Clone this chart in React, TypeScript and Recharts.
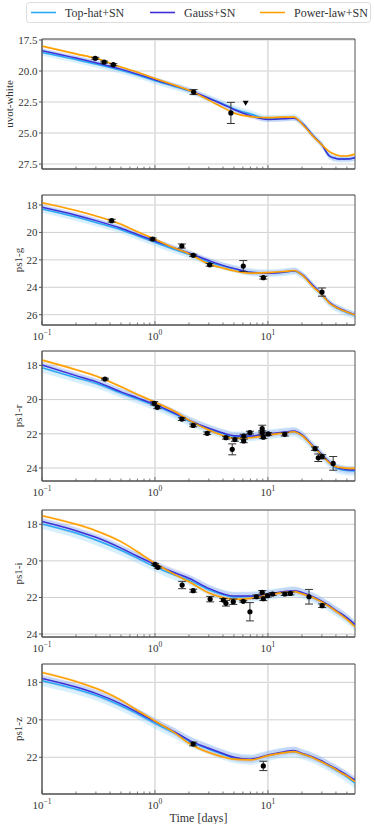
import React from 'react';
import {
  ComposedChart, Line, Area, Scatter, XAxis, YAxis, CartesianGrid,
  ReferenceArea, ErrorBar,
} from 'recharts';

const FONT = "'Liberation Serif', 'Times New Roman', serif";

// model time grid [days]
const TIMES = [0.1, 0.2, 0.3, 0.5, 0.7, 1, 1.5, 2, 3, 4, 5, 7, 10, 14, 17, 20, 25, 30, 35, 40, 45, 50, 59];
const X_TICKS = [0.1, 0.2, 0.3, 0.4, 0.5, 0.6, 0.7, 0.8, 0.9, 1, 2, 3, 4, 5, 6, 7, 8, 9, 10, 20, 30, 40, 50];
const X_MAJOR_LABELS: Record<string, string> = { '0.1': '\u22121', '1': '0', '10': '1' };

const TOPHAT_SPREAD = 0.28;
const GAUSS_SPREAD = 0.2;
const POWER_SPREAD = 0.08;

// uvot-white
const UVOT_TOPHAT = [18.5, 19.08, 19.44, 19.95, 20.33, 20.78, 21.25, 21.6, 22.2, 22.65, 23.05, 23.45, 23.83, 23.8, 23.75, 24.2, 25.2, 25.95, 26.85, 27.05, 27.1, 27.1, 27.0];
const UVOT_GAUSS = [18.36, 18.95, 19.33, 19.85, 20.25, 20.7, 21.2, 21.55, 22.2, 22.7, 23.1, 23.6, 23.9, 23.85, 23.8, 24.2, 25.2, 25.95, 26.85, 27.05, 27.1, 27.1, 27.0];
const UVOT_POWER = [17.99, 18.62, 18.98, 19.68, 20.1, 20.6, 21.15, 21.55, 22.35, 22.95, 23.38, 23.68, 23.76, 23.72, 23.72, 24.25, 25.25, 25.95, 26.5, 26.75, 26.85, 26.85, 26.7];
const UVOT_OBS = [
  { x: 0.296, y: 18.98, err: 0.08 },
  { x: 0.355, y: 19.28, err: 0.08 },
  { x: 0.428, y: 19.49, err: 0.08 },
  { x: 2.2, y: 21.7, err: 0.2 },
  { x: 4.7, y: 23.38, err: 0.85 },
];
const UVOT_LIMITS = [{ x: 6.35, y: 22.6 }];

// ps1-g
const G_TOPHAT = [18.29, 18.88, 19.27, 19.8, 20.25, 20.72, 21.25, 21.6, 22.15, 22.45, 22.65, 22.9, 22.97, 22.9, 22.82, 23.1, 23.9, 24.55, 25.15, 25.48, 25.68, 25.85, 26.05];
const G_GAUSS = [18.17, 18.75, 19.14, 19.7, 20.15, 20.62, 21.15, 21.5, 22.05, 22.4, 22.62, 22.9, 22.97, 22.88, 22.8, 23.05, 23.85, 24.5, 25.1, 25.42, 25.62, 25.78, 26.0];
const G_POWER = [17.83, 18.4, 18.8, 19.4, 19.95, 20.5, 21.15, 21.55, 22.3, 22.6, 22.8, 22.97, 22.93, 22.85, 22.78, 23.1, 23.95, 24.55, 25.15, 25.45, 25.65, 25.8, 26.02];
const G_OBS = [
  { x: 0.414, y: 19.14, err: 0.1 },
  { x: 0.955, y: 20.48, err: 0.08 },
  { x: 1.73, y: 20.99, err: 0.15 },
  { x: 2.18, y: 21.67, err: 0.08 },
  { x: 3.05, y: 22.36, err: 0.1 },
  { x: 6.05, y: 22.45, err: 0.4 },
  { x: 9.1, y: 23.3, err: 0.1 },
  { x: 30.1, y: 24.35, err: 0.3 },
];

// ps1-r
const R_TOPHAT = [18.14, 18.72, 19.05, 19.62, 19.97, 20.35, 20.85, 21.25, 21.72, 22.0, 22.15, 22.15, 22.03, 21.93, 21.88, 22.1, 22.75, 23.25, 23.7, 24.0, 24.1, 24.15, 24.18];
const R_GAUSS = [17.98, 18.6, 18.95, 19.55, 19.9, 20.28, 20.8, 21.2, 21.68, 21.95, 22.11, 22.13, 22.01, 21.9, 21.84, 22.05, 22.7, 23.2, 23.65, 23.95, 24.05, 24.1, 24.12];
const R_POWER = [17.69, 18.25, 18.62, 19.25, 19.7, 20.15, 20.7, 21.2, 21.78, 22.1, 22.27, 22.23, 22.07, 21.95, 21.88, 22.1, 22.75, 23.24, 23.7, 23.92, 23.98, 24.02, 24.02];
const R_OBS = [
  { x: 0.361, y: 18.8, err: 0.05 },
  { x: 0.986, y: 20.22, err: 0.1 },
  { x: 1.05, y: 20.45, err: 0.08 },
  { x: 1.73, y: 21.14, err: 0.08 },
  { x: 2.18, y: 21.51, err: 0.08 },
  { x: 2.9, y: 21.97, err: 0.08 },
  { x: 4.25, y: 22.23, err: 0.08 },
  { x: 4.83, y: 22.91, err: 0.32 },
  { x: 5.1, y: 22.34, err: 0.1 },
  { x: 6.1, y: 22.13, err: 0.1 },
  { x: 6.1, y: 22.42, err: 0.1 },
  { x: 6.93, y: 21.93, err: 0.08 },
  { x: 8.9, y: 21.7, err: 0.2 },
  { x: 8.9, y: 21.92, err: 0.1 },
  { x: 9.1, y: 22.2, err: 0.08 },
  { x: 10.07, y: 22.01, err: 0.08 },
  { x: 14.1, y: 22.03, err: 0.1 },
  { x: 26.1, y: 22.87, err: 0.1 },
  { x: 27.9, y: 23.4, err: 0.22 },
  { x: 30.2, y: 23.34, err: 0.12 },
  { x: 37.8, y: 23.73, err: 0.4 },
];

// ps1-i
const I_TOPHAT = [17.98, 18.48, 18.86, 19.42, 19.85, 20.32, 20.78, 21.05, 21.58, 21.85, 21.97, 21.95, 21.85, 21.72, 21.67, 21.77, 22.0, 22.25, 22.5, 22.75, 22.95, 23.15, 23.55];
const I_GAUSS = [17.85, 18.35, 18.71, 19.3, 19.75, 20.19, 20.65, 20.95, 21.5, 21.8, 21.92, 21.92, 21.82, 21.68, 21.63, 21.72, 21.95, 22.2, 22.45, 22.7, 22.9, 23.1, 23.47];
const I_POWER = [17.53, 18.0, 18.35, 18.95, 19.5, 20.13, 20.75, 21.14, 21.75, 22.0, 22.1, 22.05, 21.87, 21.72, 21.68, 21.8, 22.0, 22.25, 22.5, 22.75, 22.98, 23.2, 23.6];
const I_OBS = [
  { x: 1.0, y: 20.19, err: 0.05 },
  { x: 1.06, y: 20.35, err: 0.05 },
  { x: 1.74, y: 21.32, err: 0.2 },
  { x: 2.18, y: 21.63, err: 0.08 },
  { x: 3.08, y: 22.09, err: 0.15 },
  { x: 4.03, y: 22.14, err: 0.08 },
  { x: 4.25, y: 22.32, err: 0.15 },
  { x: 4.93, y: 22.23, err: 0.15 },
  { x: 6.05, y: 22.21, err: 0.05 },
  { x: 6.93, y: 22.78, err: 0.5 },
  { x: 7.89, y: 21.96, err: 0.1 },
  { x: 8.9, y: 21.72, err: 0.1 },
  { x: 9.1, y: 22.07, err: 0.1 },
  { x: 9.93, y: 21.9, err: 0.08 },
  { x: 11.0, y: 21.81, err: 0.08 },
  { x: 14.1, y: 21.81, err: 0.08 },
  { x: 15.8, y: 21.78, err: 0.08 },
  { x: 23.1, y: 21.96, err: 0.4 },
  { x: 30.2, y: 22.45, err: 0.1 },
];

// ps1-z
const Z_TOPHAT = [17.91, 18.36, 18.69, 19.25, 19.68, 20.19, 20.72, 21.13, 21.57, 21.85, 22.03, 22.12, 21.92, 21.75, 21.7, 21.83, 22.03, 22.26, 22.48, 22.68, 22.86, 23.05, 23.39];
const Z_GAUSS = [17.79, 18.25, 18.59, 19.15, 19.6, 20.1, 20.65, 21.08, 21.52, 21.8, 22.0, 22.1, 21.88, 21.7, 21.64, 21.78, 21.98, 22.2, 22.42, 22.6, 22.78, 22.95, 23.2];
const Z_POWER = [17.47, 17.95, 18.32, 18.95, 19.5, 20.06, 20.7, 21.25, 21.75, 21.98, 22.1, 22.14, 21.91, 21.75, 21.7, 21.82, 22.02, 22.25, 22.46, 22.65, 22.85, 23.0, 23.3];
const Z_OBS = [
  { x: 2.18, y: 21.29, err: 0.1 },
  { x: 9.1, y: 22.46, err: 0.25 },
];

const COLORS = { tophat: '#29aaf2', gauss: '#3c2fd6', power: '#ffa000' };

type Panel = {
  label: string;
  top: number;
  height: number;
  domain: [number, number];
  ticks: number[];
  decimals: number;
  tophat: number[];
  gauss: number[];
  power: number[];
  obs: { x: number; y: number; err: number }[];
  limits?: { x: number; y: number }[];
  showX: boolean;
  labelOffset: number;
  xLabel?: string;
};

const PANELS: Panel[] = [
  { label: 'uvot-white', top: 39, height: 130, domain: [17.42, 27.9], ticks: [17.5, 20, 22.5, 25, 27.5], decimals: 1,
    tophat: UVOT_TOPHAT, gauss: UVOT_GAUSS, power: UVOT_POWER, obs: UVOT_OBS, limits: UVOT_LIMITS, showX: false, labelOffset: 7 },
  { label: 'ps1-g', top: 195, height: 130, domain: [17.27, 26.75], ticks: [18, 20, 22, 24, 26], decimals: 0,
    tophat: G_TOPHAT, gauss: G_GAUSS, power: G_POWER, obs: G_OBS, showX: true, labelOffset: 16 },
  { label: 'ps1-r', top: 351, height: 130, domain: [17.16, 24.76], ticks: [18, 20, 22, 24], decimals: 0,
    tophat: R_TOPHAT, gauss: R_GAUSS, power: R_POWER, obs: R_OBS, showX: true, labelOffset: 16 },
  { label: 'ps1-i', top: 510, height: 127, domain: [17.22, 24.16], ticks: [18, 20, 22, 24], decimals: 0,
    tophat: I_TOPHAT, gauss: I_GAUSS, power: I_POWER, obs: I_OBS, showX: true, labelOffset: 16 },
  { label: 'ps1-z', top: 664, height: 130, domain: [17.02, 23.96], ticks: [18, 20, 22], decimals: 0,
    tophat: Z_TOPHAT, gauss: Z_GAUSS, power: Z_POWER, obs: Z_OBS, showX: true, labelOffset: 16, xLabel: 'Time [days]' },
];

const isMajor = (v: number) => Math.abs(Math.log10(v) - Math.round(Math.log10(v))) < 1e-6;

const makeXTick = (show: boolean) => (props: any) => {
  const { x, y, payload } = props;
  const v = payload.value as number;
  const major = isMajor(v);
  const exp = X_MAJOR_LABELS[String(v)];
  return (
    <g>
      <line x1={x} x2={x} y1={y} y2={y - (major ? 4 : 2.5)} stroke="#555" strokeWidth={0.8} />
      {show && major && (
        <text x={x} y={y + 15} textAnchor="middle" fontSize={11} fontFamily={FONT} fill="#333">
          10<tspan dy={-5} fontSize={7.5}>{exp}</tspan>
        </text>
      )}
    </g>
  );
};

const Dot = (p: any) => <circle cx={p.cx} cy={p.cy} r={2.6} fill="#000" />;
const DownTriangle = (p: any) => (
  <path d={`M${p.cx - 3},${p.cy - 2.5} L${p.cx + 3},${p.cy - 2.5} L${p.cx},${p.cy + 2.5} Z`} fill="#000" />
);

const PanelChart = ({ panel }: { panel: Panel }) => {
  const rows = TIMES.map((t, i) => ({
    x: t,
    tophat: panel.tophat[i],
    gauss: panel.gauss[i],
    power: panel.power[i],
  }));
  const xAxisHeight = panel.xLabel ? 30 : 25;
  const chartHeight = panel.height + 5 + xAxisHeight;
  return (
    <div style={{ position: 'absolute', left: 0, top: panel.top - 5 }}>
      <ComposedChart width={374} height={chartHeight} data={rows} margin={{ top: 5, right: 19, left: 2, bottom: 0 }}>
        <CartesianGrid vertical={false} stroke="#d0d0d0" strokeWidth={1} />
        <CartesianGrid horizontal={false} verticalValues={[1, 10]} stroke="#dcdcdc" strokeWidth={1.6} />
        <XAxis
          dataKey="x"
          type="number"
          scale="log"
          domain={[0.1, 59]}
          allowDataOverflow
          ticks={X_TICKS}
          interval={0}
          tickSize={0}
          tickMargin={0}
          tickLine={false}
          height={xAxisHeight}
          stroke="#555"
          tick={makeXTick(panel.showX)}
          label={panel.xLabel ? { value: panel.xLabel, position: 'insideBottom', offset: 2, style: { fontSize: 12, fontFamily: FONT, fill: '#333' } } : undefined}
        />
        <YAxis
          type="number"
          reversed
          domain={panel.domain}
          allowDataOverflow
          ticks={panel.ticks}
          interval={0}
          width={40}
          tickSize={3}
          tickMargin={1.5}
          stroke="#555"
          tick={{ fontSize: 11, fontFamily: FONT, fill: '#333' }}
          tickFormatter={(v: number) => v.toFixed(panel.decimals)}
          label={{ value: panel.label, angle: -90, position: 'insideLeft', offset: panel.labelOffset, style: { textAnchor: 'middle', fontSize: 11, fontFamily: FONT, fill: '#333' } }}
        />
        <Area type="monotone" dataKey={(d: any) => [d.tophat - TOPHAT_SPREAD, d.tophat + TOPHAT_SPREAD]} stroke="none" fill="#8fd0f7" fillOpacity={0.35} isAnimationActive={false} />
        <Area type="monotone" dataKey={(d: any) => [d.gauss - GAUSS_SPREAD, d.gauss + GAUSS_SPREAD]} stroke="none" fill="#8f97e8" fillOpacity={0.28} isAnimationActive={false} />
        <Area type="monotone" dataKey={(d: any) => [d.power - POWER_SPREAD, d.power + POWER_SPREAD]} stroke="none" fill="#ffb347" fillOpacity={0.25} isAnimationActive={false} />
        <Line type="monotone" dataKey="tophat" stroke={COLORS.tophat} strokeWidth={1.5} dot={false} isAnimationActive={false} />
        <Line type="monotone" dataKey="gauss" stroke={COLORS.gauss} strokeWidth={1.5} dot={false} isAnimationActive={false} />
        <Line type="monotone" dataKey="power" stroke={COLORS.power} strokeWidth={1.6} dot={false} isAnimationActive={false} />
        <Scatter data={panel.obs} dataKey="y" shape={Dot} isAnimationActive={false}>
          <ErrorBar dataKey="err" direction="y" width={4} stroke="#333" strokeWidth={1} />
        </Scatter>
        {panel.limits && (
          <Scatter data={panel.limits} dataKey="y" shape={DownTriangle} isAnimationActive={false} />
        )}
        <ReferenceArea x1={0.1} x2={59} y1={panel.domain[0]} y2={panel.domain[1]} fill="none" stroke="#555" strokeWidth={1} ifOverflow="visible" />
      </ComposedChart>
    </div>
  );
};

const LEGEND_ITEMS = [
  { name: 'Top-hat+SN', color: COLORS.tophat, x: 31 },
  { name: 'Gauss+SN', color: COLORS.gauss, x: 150 },
  { name: 'Power-law+SN', color: COLORS.power, x: 260 },
];

export default function App() {
  return (
    <div style={{ position: 'absolute', left: 0, top: 0, width: 374, height: 829, background: '#fff' }}>
      <svg width={374} height={26} style={{ position: 'absolute', left: 0, top: 0 }}>
        <rect x={26.5} y={2.5} width={344} height={20} rx={3} fill="#fff" stroke="#dddddd" />
        {LEGEND_ITEMS.map((it) => (
          <g key={it.name}>
            <line x1={it.x} x2={it.x + 25} y1={12.5} y2={12.5} stroke={it.color} strokeWidth={1.6} />
            <text x={it.x + 34} y={16.5} fontSize={12} fontFamily={FONT} fill="#333">{it.name}</text>
          </g>
        ))}
      </svg>
      {PANELS.map((p) => (
        <PanelChart key={p.label} panel={p} />
      ))}
    </div>
  );
}
